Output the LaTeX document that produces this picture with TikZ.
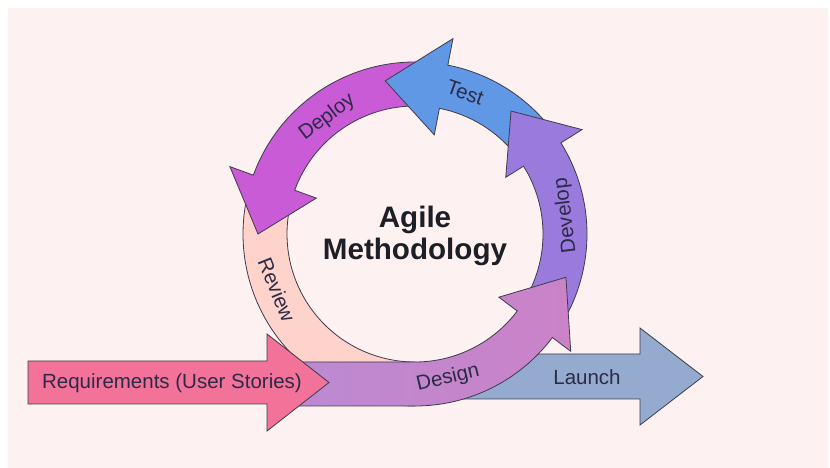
\documentclass[tikz,border=0pt]{standalone}
\usepackage{fontspec}
\setmainfont{Liberation Sans}
\definecolor{bg}{HTML}{FDF2F1}
\definecolor{outl}{HTML}{3E3B4C}
\definecolor{reqc}{HTML}{F2729A}
\definecolor{launchc}{HTML}{94ABCF}
\definecolor{reviewc}{HTML}{FDD3CB}
\definecolor{deployc}{HTML}{C95BD6}
\definecolor{testc}{HTML}{6098E6}
\definecolor{developc}{HTML}{9A7BDD}
\definecolor{designL}{HTML}{BB8AD2}
\definecolor{designR}{HTML}{CB82C7}
\definecolor{labc}{HTML}{2C2B46}
\definecolor{titlec}{HTML}{1E1E26}
\begin{document}
\begin{tikzpicture}[x=1pt,y=1pt,
  shp/.style={draw=outl, line width=0.8pt, line join=miter},
  lab/.style={text=labc, font=\fontsize{20.5}{24}\selectfont, inner sep=0pt},
  ttl/.style={text=titlec, font=\bfseries\fontsize{29.6}{32}\selectfont, inner sep=0pt}]
\useasboundingbox (0,0) rectangle (830,468);
\fill[white] (0,0) rectangle (830,468);
\fill[bg] (8,0) rectangle (828,460);

\begin{scope}[shift={(415,234)}]
  % Review
  \path[shp, fill=reviewc] (168:172pt) arc[start angle=168, end angle=270, radius=172pt]
    -- (270:128pt) arc[start angle=270, end angle=168, radius=128pt] -- cycle;
  % Deploy
  \path[shp, fill=deployc] (86:172pt) arc[start angle=86, end angle=160, radius=172pt]
    -- (160:197pt) -- (180:157pt) -- (160:105pt) -- (160:128pt)
    arc[start angle=160, end angle=86, radius=128pt] -- cycle;
  % Test
  \path[shp, fill=testc] (38:172pt) arc[start angle=38, end angle=79, radius=172pt]
    -- (79:199pt) -- (101:156pt) -- (79:101pt) -- (79:128pt)
    arc[start angle=79, end angle=38, radius=128pt] -- cycle;
  % Develop
  \path[shp, fill=developc] (-32:172pt) arc[start angle=-32, end angle=32, radius=172pt]
    -- (32:197pt) -- (52:156pt) -- (32:107pt) -- (32:128pt)
    arc[start angle=32, end angle=-32, radius=128pt] -- cycle;
\end{scope}

% Launch
\path[shp, fill=launchc] (462,69) -- (640,69) -- (640,43) -- (703,91.5) -- (640,140)
  -- (640,114) -- (462,114) -- cycle;

\begin{scope}[shift={(415,234)}]
  % Design
  \path[shp, left color=designL, right color=designR] (-125,-172) -- (0,-172)
    arc[start angle=-90, end angle=-37, radius=172pt]
    -- (-37:195pt) -- (-16:157pt) -- (-37:105pt) -- (-37:128pt)
    arc[start angle=-37, end angle=-90, radius=128pt] -- (-125,-128) -- cycle;
\end{scope}

% Requirements
\path[shp, fill=reqc] (28,64) -- (267,64) -- (267,37) -- (329,85.5) -- (267,134)
  -- (267,107) -- (28,107) -- cycle;

% Labels
\node[lab] (req) at (172,85) {Requirements (User Stories)};
\node[lab] (launch) at (587,91) {Launch};
\node[lab, rotate=13] (design) at (448,90) {Design};
\begin{scope}[shift={(415,234)}]
  \node[lab, rotate=97] (develop) at (7:152pt) {Develop};
  \node[lab, rotate=-19.5] (test) at (70.5:150pt) {Test};
  \node[lab, rotate=37] (deploy) at (127:146pt) {Deploy};
  \node[lab, rotate=-68] (review) at (202:149pt) {Review};
\end{scope}
\node[ttl, anchor=base] (agile) at (415,240) {Agile};
\node[ttl, anchor=base] (meth) at (415,208) {Methodology};
\end{tikzpicture}
\end{document}
